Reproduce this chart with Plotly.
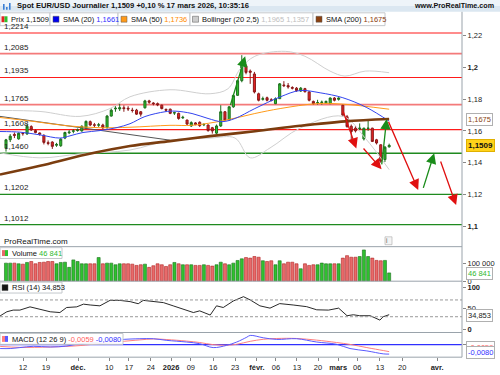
import plotly.graph_objects as go

# ---------------- DATA ----------------
candle_idx = list(range(92))
open_ = [1.1493,1.1545,1.1578,1.1550,1.1585,1.1581,1.1627,1.1602,1.1587,1.1571,
         1.1526,1.1530,1.1510,1.1507,1.1555,1.1588,1.1598,1.1602,1.1600,1.1617,
         1.1658,1.1638,1.1636,1.1637,1.1620,1.1693,1.1738,1.1738,1.1745,1.1742,
         1.1730,1.1730,1.1720,1.1745,1.1788,1.1775,1.1771,1.1761,1.1735,1.1736,
         1.1712,1.1710,1.1682,1.1668,1.1631,1.1650,1.1654,1.1638,1.1637,1.1620,
         1.1586,1.1631,1.1720,1.1668,1.1751,1.1823,1.1915,1.2008,1.1975,1.1957,
         1.1833,1.1798,1.1808,1.1795,1.1771,1.1802,1.1888,1.1884,1.1872,1.1868,
         1.1850,1.1865,1.1844,1.1785,1.1776,1.1778,1.1776,1.1771,1.1806,1.1798,
         1.1761,1.1689,1.1629,1.1617,1.1612,1.1550,1.1615,1.1617,1.1544,1.1513,
         1.1420,1.1500]
high = [1.1550,1.1580,1.1590,1.1590,1.1590,1.1643,1.1635,1.1610,1.1590,1.1580,
        1.1540,1.1535,1.1525,1.1555,1.1595,1.1605,1.1610,1.1615,1.1635,1.1665,
        1.1665,1.1650,1.1650,1.1645,1.1700,1.1740,1.1755,1.1771,1.1760,1.1755,
        1.1745,1.1738,1.1725,1.1795,1.1795,1.1780,1.1778,1.1765,1.1740,1.1740,
        1.1720,1.1715,1.1695,1.1670,1.1660,1.1655,1.1660,1.1648,1.1640,1.1625,
        1.1640,1.1761,1.1725,1.1755,1.1830,1.1920,1.2075,1.2020,1.1985,1.1970,
        1.1840,1.1815,1.1815,1.1805,1.1810,1.1900,1.1912,1.1900,1.1880,1.1875,
        1.1875,1.1870,1.1850,1.1790,1.1795,1.1790,1.1790,1.1810,1.1812,1.1810,
        1.1765,1.1700,1.1640,1.1630,1.1647,1.1620,1.1666,1.1620,1.1550,1.1515,
        1.1505,1.1520]
low = [1.1470,1.1530,1.1555,1.1545,1.1570,1.1575,1.1600,1.1585,1.1570,1.1515,
       1.1510,1.1487,1.1500,1.1500,1.1548,1.1580,1.1585,1.1595,1.1595,1.1610,
       1.1630,1.1620,1.1625,1.1610,1.1615,1.1690,1.1720,1.1725,1.1720,1.1725,
       1.1715,1.1700,1.1690,1.1740,1.1770,1.1760,1.1755,1.1735,1.1720,1.1705,
       1.1700,1.1670,1.1675,1.1635,1.1625,1.1635,1.1625,1.1630,1.1595,1.1583,
       1.1580,1.1625,1.1660,1.1665,1.1745,1.1820,1.1905,1.1955,1.1895,1.1835,
       1.1785,1.1790,1.1785,1.1785,1.1768,1.1800,1.1875,1.1865,1.1860,1.1845,
       1.1845,1.1840,1.1785,1.1765,1.1765,1.1765,1.1770,1.1768,1.1785,1.1790,
       1.1690,1.1620,1.1524,1.1590,1.1605,1.1540,1.1600,1.1530,1.1515,1.1400,
       1.1405,1.1495]
close = [1.1544,1.1567,1.1572,1.1585,1.1583,1.1629,1.1606,1.1590,1.1580,1.1528,
         1.1522,1.1503,1.1515,1.1548,1.1590,1.1592,1.1600,1.1606,1.1629,1.1660,
         1.1637,1.1636,1.1638,1.1620,1.1693,1.1730,1.1742,1.1745,1.1740,1.1738,
         1.1728,1.1705,1.1705,1.1788,1.1780,1.1771,1.1763,1.1740,1.1730,1.1710,
         1.1714,1.1678,1.1685,1.1643,1.1652,1.1640,1.1633,1.1640,1.1602,1.1600,
         1.1631,1.1720,1.1668,1.1751,1.1822,1.1915,1.2029,1.1967,1.1968,1.1844,
         1.1792,1.1802,1.1792,1.1792,1.1802,1.1895,1.1884,1.1876,1.1868,1.1853,
         1.1868,1.1846,1.1792,1.1771,1.1777,1.1780,1.1785,1.1806,1.1792,1.1806,
         1.1699,1.1627,1.1596,1.1600,1.1617,1.1617,1.1617,1.1534,1.1524,1.1410,
         1.1498,1.1509]
volume = [101700,101700,101700,98000,96000,105500,111000,98000,105500,107000,
          111000,111000,98000,105500,107000,78000,120000,111000,98000,98000,
          98000,98000,133000,98000,101700,101700,92600,98000,98000,98000,
          96000,88900,92600,96000,78000,87000,98000,92600,83000,92600,
          105500,98000,92600,92600,92600,89000,89000,92600,89000,85000,
          92600,107000,98000,92600,101700,116700,126000,133000,130000,139000,
          135000,115000,111000,115000,92600,115000,98000,107000,107000,98000,
          70000,98000,89000,92600,92600,102000,98000,98000,98000,98000,
          130000,144000,135000,135000,139000,176000,139000,130000,117000,115000,
          117000,46841]

# indicator readings (candle index, value)
sma20_k = [-1.43,3.33,8.08,12.83,15.2,18.29,22.33,26.37,29.45,33.0,37.77,40.14,44.18,47.98,51.3,54.4,59.1,65.1,69.8,74.6,80.0,85.7,91]
sma20_v = [1.1596,1.1592,1.1575,1.1555,1.1569,1.1590,1.1602,1.1621,1.1645,1.1690,1.1720,1.1724,1.1709,1.1678,1.1658,1.1678,1.1740,1.1813,1.1853,1.1839,1.1808,1.1746,1.1661]
sma50_k = [-1.43,6.41,14.49,22.33,29.45,38.95,44.18,52.0,59.1,65.1,73.9,80.0,91]
sma50_v = [1.1684,1.1660,1.1632,1.1620,1.1623,1.1635,1.1635,1.1666,1.1709,1.1740,1.1771,1.1768,1.1736]
sma200_k = [-1.43,8.08,18.76,29.45,38.95,48.46,59.14,69.83,80.52,91]
sma200_v = [1.1326,1.1381,1.1450,1.1505,1.1536,1.1567,1.1598,1.1632,1.1660,1.1675]
boll_up_k = [-1.43,8.08,17.58,24.7,29.45,38.95,48.46,52.7,55.6,59.1,66.3,71.0,76.96,80.5,85.3,91]
boll_up_v = [1.1728,1.1722,1.1691,1.1740,1.1814,1.1858,1.1833,1.1864,1.1988,1.2068,1.2099,1.2068,1.1975,1.1944,1.1975,1.1965]
boll_lo_k = [-1.43,8.08,17.58,29.45,38.95,48.46,54.4,58.0,62.7,69.8,80.0,85.3,91]
boll_lo_v = [1.1462,1.1431,1.1456,1.1480,1.1542,1.1555,1.1555,1.1431,1.1493,1.1617,1.1691,1.1555,1.1357]
rsi_k = [-1.4,0.2,1.7,3.3,5.7,8.1,10.5,12.8,14.4,16.8,18.4,20,22.3,24.7,27,29.5,31.4,32.6,35,37.4,39.7,42.9,44.5,46,48.5,50,51.6,54,56.4,58,60.3,62.7,65,68.2,71.4,73.8,76.6,79,81,82.5,84,86.5,88.8,89.6,91]
rsi_v = [32,41.8,45.8,45.8,53.5,48,41.8,40,52,53.5,60,58,56,69,69,66,61,69,66,63.6,56,45.8,40,44,34,56,52,67.6,77.8,70,56,50.5,61.3,58,54,46.5,45.8,50.5,32.4,34.7,32.4,32.4,22,30,34.853]
macd_k = [-1.4,1,3.3,6.5,10.5,14.4,17.6,22.3,27,31.8,35,38.2,42.9,46,49.2,52.4,54.8,57.2,58,61.1,64.3,69,73.8,78.5,81.7,85.7,89.6,91]
macd_v = [-0.0033,-0.0033,-0.0025,-0.0014,-0.0020,-0.0012,0.0008,0.0022,0.0042,0.0050,0.0050,0.0036,0.0022,0.0008,-0.0025,-0.0006,0.0022,0.0063,0.0078,0.0058,0.0044,0.0050,0.0022,0.0003,-0.0033,-0.0053,-0.0078,-0.0080]
signal_k = [-1.4,3.3,10.5,17.6,22.3,27,31.8,35,38.2,42.9,46,49.2,52.4,54.8,58,61.1,64.3,69,73.8,78.5,81.7,85.7,89.6,91]
signal_v = [-0.0015,-0.0023,-0.0020,-0.0008,0.0010,0.0025,0.0040,0.0048,0.0043,0.0030,0.0018,0.0000,-0.0005,0.0003,0.0028,0.0045,0.0052,0.0052,0.0038,0.0018,0.0002,-0.0025,-0.0050,-0.0059]

# horizontal support / resistance levels
res_levels = [1.2214, 1.1935, 1.1608]
res_soft_levels = [1.2085, 1.1765]
sup_levels = [1.1460, 1.1202, 1.1012]
level_labels = {1.2214: "1,2214", 1.2085: "1,2085", 1.1935: "1,1935", 1.1765: "1,1765",
                1.1608: "1,1608", 1.1460: "1,1460", 1.1202: "1,1202", 1.1012: "1,1012"}
# drawn trend line (candle index, price)
trend_k = [-1.43, 38.9]
trend_v = [1.1691, 1.1542]
# drawn arrows: (tail_k, tail_price, head_k, head_price, colour)
arrows = [
    (53.2, 1.1753, 56.8, 1.2068, "green"),
    (80.0, 1.1728, 83.2, 1.1490, "red"),
    (84.6, 1.1499, 89.2, 1.1360, "red"),
    (89.2, 1.1381, 90.4, 1.1675, "green"),
    (90.7, 1.1666, 97.9, 1.1230, "red"),
    (99.0, 1.1233, 101.7, 1.1460, "green"),
    (103.1, 1.1418, 106.9, 1.1135, "red"),
]

x_tick_k = [4.04, 9.5, 17.1, 24.5, 29.2, 34.4, 39.2, 43.9, 49.2, 54.4, 59.6, 64.1, 69.1, 74.1, 78.9, 83.4, 88.8, 94.1, 102.4]
x_tick_text = ["12", "19", "<b>déc.</b>", "10", "17", "24", "<b>2026</b>", "09", "16", "23",
               "<b>févr.</b>", "06", "13", "20", "<b>mars</b>", "06", "13", "20", "<b>avr.</b>"]
price_ticks = [1.10, 1.12, 1.14, 1.16, 1.18, 1.20, 1.22]
price_tick_text = ["<b>1,1</b>", "1,12", "1,14", "1,16", "1,18", "<b>1,2</b>", "1,22"]

# ---------------- LAYOUT HELPERS ----------------
W, H = 500, 375
def px(x): return x / W
def py(y): return 1 - y / H

FONT = "Liberation Sans"
FS = 7.5
AXC = "#9aa3ab"

up_fill, up_line = "#2fc12f", "#1d6e1d"
dn_fill, dn_line = "#e52222", "#8a1a1a"

fig = go.Figure()

fig.add_trace(go.Scatter(x=boll_up_k, y=boll_up_v, mode="lines", line=dict(color="#cfcfcf", width=1, shape="spline"), yaxis="y"))
fig.add_trace(go.Scatter(x=boll_lo_k, y=boll_lo_v, mode="lines", line=dict(color="#cfcfcf", width=1, shape="spline"), yaxis="y"))
fig.add_trace(go.Scatter(x=trend_k, y=trend_v, mode="lines", line=dict(color="#555555", width=1), yaxis="y"))
fig.add_trace(go.Scatter(x=sma50_k, y=sma50_v, mode="lines", line=dict(color="#ff9a1a", width=1, shape="spline"), yaxis="y"))
fig.add_trace(go.Scatter(x=sma20_k, y=sma20_v, mode="lines", line=dict(color="#3344ee", width=1, shape="spline"), yaxis="y"))
fig.add_trace(go.Scatter(x=sma200_k, y=sma200_v, mode="lines", line=dict(color="#7b3d0f", width=2.6, shape="spline"), yaxis="y"))
fig.add_trace(go.Candlestick(x=candle_idx, open=open_, high=high, low=low, close=close,
                             increasing=dict(fillcolor=up_fill, line=dict(color=up_line, width=1)),
                             decreasing=dict(fillcolor=dn_fill, line=dict(color=dn_line, width=1)),
                             whiskerwidth=0, xaxis="x", yaxis="y"))
vcol = [up_fill if c >= o else "#e86a6a" for o, c in zip(open_, close)]
vline = [up_line if c >= o else "#b02222" for o, c in zip(open_, close)]
fig.add_trace(go.Bar(x=candle_idx, y=volume, marker=dict(color=vcol, line=dict(color=vline, width=0.6)),
                     width=0.72, yaxis="y2"))
fig.add_trace(go.Scatter(x=rsi_k, y=rsi_v, mode="lines", line=dict(color="#111111", width=0.9), yaxis="y3"))
fig.add_trace(go.Scatter(x=signal_k, y=signal_v, mode="lines", line=dict(color="#ff7f7f", width=1, shape="spline"), yaxis="y4"))
fig.add_trace(go.Scatter(x=macd_k, y=macd_v, mode="lines", line=dict(color="#5a5aff", width=1, shape="spline"), yaxis="y4"))

shapes = []
annotations = []

shapes.append(dict(type="rect", xref="paper", yref="paper", x0=0, x1=1, y0=py(6), y1=1, fillcolor="#eef4f9", line_width=0, layer="below"))
shapes.append(dict(type="rect", xref="paper", yref="paper", x0=0, x1=1, y0=py(12), y1=py(6), fillcolor="#dbe7f1", line_width=0, layer="below"))
for i, h0 in enumerate([8, 5, 9]):
    shapes.append(dict(type="rect", xref="paper", yref="paper", x0=px(3 + 3 * i), x1=px(4.6 + 3 * i), y0=py(10), y1=py(10 - h0 + 2), fillcolor="#3a7fd5", line_width=0))
annotations.append(dict(xref="paper", yref="paper", x=px(15), y=py(6), xanchor="left", yanchor="middle", showarrow=False,
                        text="<b>Spot EUR/USD Journalier 1,1509 +0,10 % 17 mars 2026, 10:35:16</b>", font=dict(family=FONT, size=7.6, color="#111")))
annotations.append(dict(xref="paper", yref="paper", x=px(496), y=py(6), xanchor="right", yanchor="middle", showarrow=False,
                        text="<b>www.ProRealTime.com</b>", font=dict(family=FONT, size=7.2, color="#111")))

for lv in res_levels:
    shapes.append(dict(type="line", xref="x domain", yref="y", x0=0, x1=1, y0=lv, y1=lv, line=dict(color="#ff1a1a", width=1.2), layer="below"))
for lv in res_soft_levels:
    shapes.append(dict(type="line", xref="x domain", yref="y", x0=0, x1=1, y0=lv, y1=lv, line=dict(color="#f47a7a", width=1.8), layer="below"))
for i, lv in enumerate(sup_levels):
    shapes.append(dict(type="line", xref="x domain", yref="y", x0=0, x1=1, y0=lv, y1=lv,
                       line=dict(color="#1f8a1f", width=1.6 if i == 0 else 1.1), layer="below"))
for lv, txt in level_labels.items():
    annotations.append(dict(xref="x domain", yref="y", x=0.004, y=lv, xanchor="left", yanchor="bottom", showarrow=False,
                            text=txt, font=dict(family=FONT, size=8, color="#222")))

for tk, tv, hk, hv, col in arrows:
    c = "#e01010" if col == "red" else "#1a8c1a"
    annotations.append(dict(x=hk, y=hv, ax=tk, ay=tv, xref="x", yref="y", axref="x", ayref="y", text="",
                            showarrow=True, arrowhead=2, arrowsize=1.6, arrowwidth=1.3, arrowcolor=c))

for yy in [250, 285, 337, 362]:
    shapes.append(dict(type="line", xref="paper", yref="paper", x0=0, x1=px(462), y0=py(yy), y1=py(yy), line=dict(color=AXC, width=1)))
shapes.append(dict(type="line", xref="paper", yref="paper", x0=px(462), x1=px(462), y0=py(362), y1=py(12), line=dict(color=AXC, width=1)))

for lv in [70, 30]:
    shapes.append(dict(type="line", xref="x domain", yref="y3", x0=0, x1=1, y0=lv, y1=lv, line=dict(color="#999", width=1, dash="3px,2px")))
shapes.append(dict(type="line", xref="x domain", yref="y4", x0=0, x1=1, y0=0, y1=0, line=dict(color="#3030ff", width=1.3), layer="below"))

def box(x0, x1, y0, y1):
    shapes.append(dict(type="rect", xref="paper", yref="paper", x0=px(x0), x1=px(x1), y0=py(y1), y1=py(y0),
                       fillcolor="rgba(255,255,255,0.92)", line=dict(color="#c4c8cc", width=1)))
def icon(x0, y0, c1, c2=None):
    if c2 is None:
        shapes.append(dict(type="rect", xref="paper", yref="paper", x0=px(x0), x1=px(x0 + 6), y0=py(y0 + 6), y1=py(y0), fillcolor=c1, line=dict(color="#555", width=0.5)))
    else:
        shapes.append(dict(type="rect", xref="paper", yref="paper", x0=px(x0), x1=px(x0 + 3), y0=py(y0 + 6), y1=py(y0), fillcolor=c1, line_width=0))
        shapes.append(dict(type="rect", xref="paper", yref="paper", x0=px(x0 + 3), x1=px(x0 + 6), y0=py(y0 + 6), y1=py(y0), fillcolor=c2, line_width=0))
def label(x, y, text, size=FS):
    annotations.append(dict(xref="paper", yref="paper", x=px(x), y=py(y), xanchor="left", yanchor="middle", showarrow=False,
                            text=text, font=dict(family=FONT, size=size, color="#111")))

box(0, 50, 13, 26); icon(1.5, 16.5, "#e52222", "#2fc12f"); label(9, 19.8, "Prix 1,1509")
box(50, 118, 13, 26); icon(53, 16.5, "#0000ee"); label(61, 19.8, "SMA (20) <span style='color:#3030ff'>1,1661</span>")
box(118, 190, 13, 26); icon(121, 16.5, "#ff9a1a"); label(129, 19.8, "SMA (50) <span style='color:#ff8c00'>1,1736</span>")
box(190, 313, 13, 26); icon(192.5, 16.5, "#cccccc"); label(200, 19.8, "Bollinger (20 2,5) <span style='color:#c0c0c0'>1,1965 1,1357</span>")
box(313, 385, 13, 26); icon(316, 16.5, "#8b4010"); label(324, 19.8, "SMA (200) <span style='color:#8b4010'>1,1675</span>")

label(2, 245, "ProRealTime.com", size=8)
shapes.append(dict(type="rect", xref="paper", yref="paper", x0=px(385), x1=px(392), y0=py(248), y1=py(240), fillcolor="#f4f4f4", line=dict(color="#aaa", width=0.6)))
annotations.append(dict(xref="paper", yref="paper", x=px(388.5), y=py(244), showarrow=False, text="i", font=dict(family=FONT, size=6.5, color="#555")))

box(0, 62, 251, 262); icon(2, 253.5, "#e86a6a", "#2fc12f"); label(10, 256.8, "Volume <span style='color:#2fb82f'>46 841</span>")
box(0, 62, 286, 297); icon(2, 288.5, "#111111"); label(10, 291.8, "RSI (14) 34,853")
box(0, 123, 338, 349); icon(2, 340.5, "#ff7f7f", "#5a5aff"); label(10, 343.8, "MACD (12 26 9) <span style='color:#ff6060'>-0,0059</span> <span style='color:#3030ff'>-0,0080</span>")

def vbox(y, text, color, bg="white", border="#b0b0b0", bold=False):
    annotations.append(dict(xref="paper", yref="paper", x=px(466), y=py(y), xanchor="left", yanchor="middle", showarrow=False,
                            text=("<b>%s</b>" % text) if bold else text, bgcolor=bg, bordercolor=border, borderwidth=1, borderpad=1,
                            font=dict(family=FONT, size=8 if bold else FS, color=color)))
vbox(121.5, "1,1675", "#8b4513")
vbox(147.5, "1,1509", "#111", bg="#ffd21a", border="#e0b000", bold=True)
vbox(277, "46 841", "#2fb82f")
vbox(320, "34,853", "#222")
vbox(352, "-0,0059", "#ff6060")
vbox(357.5, "-0,0080", "#3030ff")

tickfont = dict(family=FONT, size=FS, color="#222")
yax_common = dict(side="right", anchor="x", showgrid=False, zeroline=False, ticks="outside", ticklen=3, tickcolor="#888",
                  tickfont=tickfont, showline=False, fixedrange=True, ticklabeloverflow="allow")

fig.update_layout(
    width=W, height=H, margin=dict(l=0, r=0, t=0, b=0), paper_bgcolor="white", plot_bgcolor="white", showlegend=False,
    xaxis=dict(domain=[0, px(462)], range=[-1.425, 108.3], anchor="y4", showgrid=False, zeroline=False,
               tickvals=x_tick_k, ticktext=x_tick_text, ticks="outside", ticklen=3, tickcolor="#888", tickfont=tickfont,
               rangeslider=dict(visible=False), showline=False, fixedrange=True),
    yaxis=dict(domain=[py(250), py(12)], range=[1.08739, 1.23467], tickvals=price_ticks, ticktext=price_tick_text, **yax_common),
    yaxis2=dict(domain=[py(285), py(250)], range=[0, 194444], tickvals=[0, 100000], ticktext=["0", "100 000"], **yax_common),
    yaxis3=dict(domain=[py(337), py(285)], range=[-7.6, 114.7], tickvals=[0, 50, 100], ticktext=["<b>0</b>", "50", "<b>100</b>"], **yax_common),
    yaxis4=dict(domain=[py(362), py(337)], range=[-0.0106, 0.01025], tickvals=[0], ticktext=["0"], **yax_common),
    shapes=shapes, annotations=annotations, bargap=0, hovermode=False,
)

fig.write_html("out.html", config={"displayModeBar": False, "staticPlot": True},
               post_script="document.body.style.margin='0';document.body.style.overflow='hidden';")
